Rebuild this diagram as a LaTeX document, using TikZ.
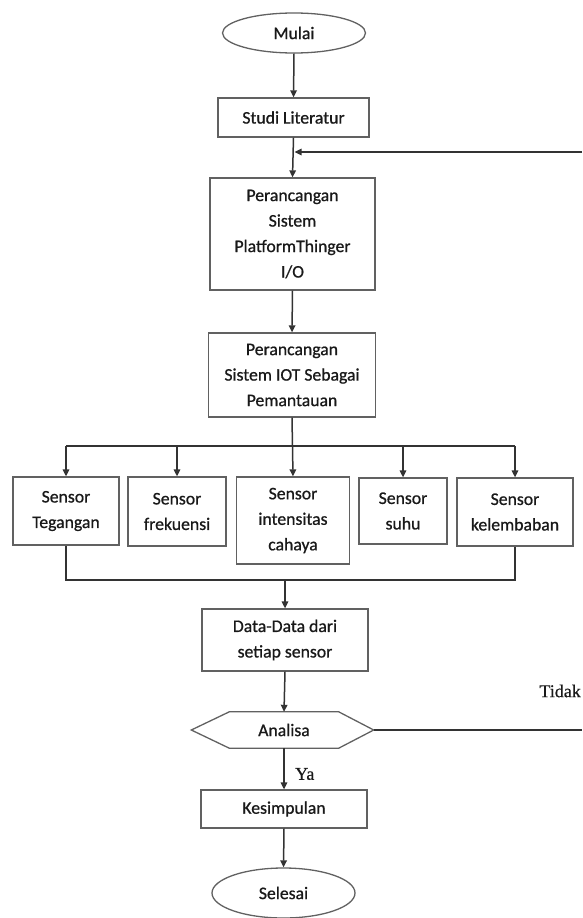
\documentclass[tikz,border=0pt]{standalone}
\usepackage{fontspec}
\setmainfont{Carlito}
\newfontfamily\boxfont{Carlito}[FakeBold=0.8]
\newfontfamily\lblfont{Liberation Serif}[FakeBold=0.5]
\usetikzlibrary{arrows.meta,shapes.geometric,calc}
\begin{document}
\begin{tikzpicture}[x=1pt,y=-1pt,
  bord/.style={draw=black!62,line width=1.3pt},
  txt/.style={font=\boxfont\fontsize{17.7}{25.5}\selectfont,text=black!90,align=center,inner sep=0pt},
  box/.style={bord,txt,rectangle},
  term/.style={bord,txt,ellipse},
  ln/.style={draw=black!80,line width=1.5pt},
  arr/.style={ln,-{Triangle[length=7pt,width=6.5pt]}},
  lbl/.style={font=\lblfont\fontsize{18}{20}\selectfont,text=black!90,inner sep=0pt}]
\useasboundingbox (0,0) rectangle (582,918);

% nodes
\node[term,minimum width=143pt,minimum height=40pt] (mulai) at (294,33) {Mulai};
\node[box,minimum width=151pt,minimum height=39pt] (studi) at (293.5,117.5) {Studi Literatur};
\node[box,minimum width=165pt,minimum height=112pt] (p1) at (292.5,234) {Perancangan\\Sistem\\PlatformThinger\\I/O};
\node[box,minimum width=167pt,minimum height=84pt] (p2) at (292,375) {Perancangan\\Sistem IOT Sebagai\\Pemantauan};

\node[box,minimum width=106pt,minimum height=68pt] (s1) at (66,511) {Sensor\\Tegangan};
\node[box,minimum width=98pt,minimum height=69pt] (s2) at (177,511.5) {Sensor\\frekuensi};
\node[box,minimum width=113pt,minimum height=87pt] (s3) at (293,520.5) {Sensor\\intensitas\\cahaya};
\node[box,minimum width=88pt,minimum height=66pt] (s4) at (403,511) {Sensor\\suhu};
\node[box,minimum width=116pt,minimum height=68pt] (s5) at (515,512) {Sensor\\kelembaban};

\node[box,minimum width=166pt,minimum height=62pt] (data) at (285,640) {Data-Data dari\\setiap sensor};

\node[txt,minimum width=109pt,minimum height=36pt] (an) at (284,730) {Analisa};
\coordinate (anR) at ($(an.east)+(35,0)$);
\coordinate (anL) at ($(an.west)+(-38,0)$);
\draw[bord] (an.north west) -- (an.north east) -- (anR) -- (an.south east) -- (an.south west) -- (anL) -- cycle;

\node[box,minimum width=166pt,minimum height=38pt] (kes) at (284,809) {Kesimpulan};
\node[term,minimum width=143pt,minimum height=50pt] (sel) at (283.5,893) {Selesai};

\node[lbl,anchor=west] (ya) at (295,774) {Ya};
\node[lbl,anchor=east] (tidak) at (581,691) {Tidak};

% coordinates
\coordinate (j1) at (294.5,152);
\coordinate (r1) at (582,730);
\coordinate (r2) at (582,152);
\coordinate (bus) at (292,446);
\coordinate (m) at (285,580);

% connectors
\draw[arr] (mulai.south) -- (studi.north);
\draw[arr] (studi.south) -- (p1.north);
\draw[arr] (r2) -- (j1);
\draw[arr] (p1.south) -- (p2.north);
\draw[arr] (p2.south) -- (s3.north);
\draw[ln] (s1.north |- bus) -- (s5.north |- bus);
\draw[arr] (s1.north |- bus) -- (s1.north);
\draw[arr] (s2.north |- bus) -- (s2.north);
\draw[arr] (s4.north |- bus) -- (s4.north);
\draw[arr] (s5.north |- bus) -- (s5.north);
\draw[ln] (s1.south) |- (m) -| (s5.south);
\draw[arr] (m) -- (data.north);
\draw[arr] (data.south) -- (an.north);
\draw[arr] (an.south) -- (kes.north);
\draw[arr] (kes.south) -- (sel.north);
\draw[ln] (anR) -- (r1);
\end{tikzpicture}
\end{document}
